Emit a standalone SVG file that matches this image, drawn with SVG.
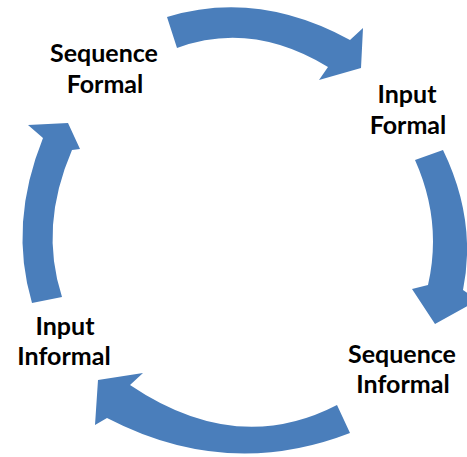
<svg xmlns="http://www.w3.org/2000/svg" width="467" height="457" viewBox="0 0 467 457">
<style>
.arrow{fill:#4A7EBB;stroke:none}
.lbl{font-family:"Lato","Open Sans",sans-serif;font-weight:bold;font-size:25px;fill:#000;text-anchor:middle}
</style>
<rect width="467" height="457" fill="#fff"/>
<g id="connectors">
<path id="arrow-top" class="arrow" d="M167,17 Q257.5,-10.5 350,40 L363,28 L361,68 L319,80 L328,67 Q251.5,20.5 177,48 Z"/>
<path id="arrow-right" class="arrow" d="M443,150 Q477,220 463,290 L478,300 L435,324 L412,289 L428,285 Q442.5,221.5 415,160 Z"/>
<path id="arrow-bottom" class="arrow" d="M350,433 Q227.5,480.5 107,418 L95,425 L98,380 L143,373 L130,385 Q236.5,457 337,405 Z"/>
<path id="arrow-left" class="arrow" d="M32,303 Q8.5,223.5 43,138 L28,125 L68,123 L80,149 L72,150 Q39,226.5 62,297 Z"/>
</g>
<g id="node-sequence-formal">
<text class="lbl" x="104" y="62">Sequence</text>
<text class="lbl" x="105" y="93">Formal</text>
</g>
<g id="node-input-formal">
<text class="lbl" x="407" y="103">Input</text>
<text class="lbl" x="408" y="134">Formal</text>
</g>
<g id="node-sequence-informal">
<text class="lbl" x="402" y="363">Sequence</text>
<text class="lbl" x="403" y="393">Informal</text>
</g>
<g id="node-input-informal">
<text class="lbl" x="65" y="335">Input</text>
<text class="lbl" x="64" y="365">Informal</text>
</g>
</svg>
